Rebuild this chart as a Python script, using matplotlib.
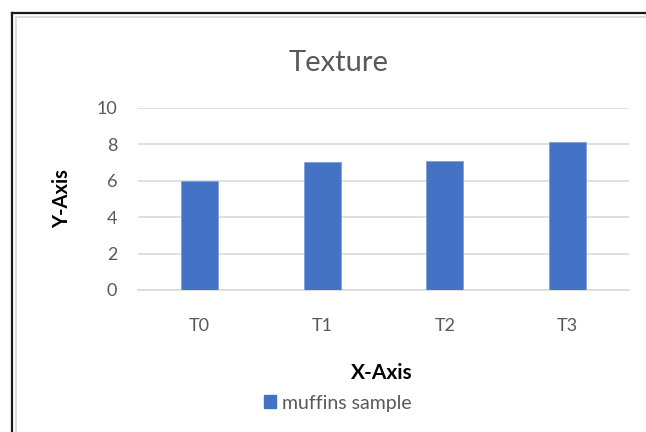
import matplotlib
matplotlib.use("Agg")
import matplotlib.pyplot as plt
from matplotlib.lines import Line2D
from matplotlib.patches import Patch

plt.rcParams['font.family'] = ['Lato', 'DejaVu Sans']

categories = ["T0", "T1", "T2", "T3"]
texture_scores = [6.0, 7.05, 7.1, 8.15]
y_ticks = [0, 2, 4, 6, 8, 10]
series_name = "muffins sample"

BAR_COLOR = "#4472C4"
GRID_COLOR = "#d9d9d9"
TEXT_GRAY = "#595959"

W, H = 646, 432
fig = plt.figure(figsize=(W / 100, H / 100), dpi=100)
fig.patch.set_facecolor("white")

# chart frame: dark outer line with a light inner line (top and left edges)
def fx(px):
    return px / W

def fy(py):
    return 1 - py / H

fig.add_artist(Line2D([fx(12), 1], [fy(13), fy(13)], color="#1a1a1a", lw=1.6, transform=fig.transFigure))
fig.add_artist(Line2D([fx(12), fx(12)], [fy(13), 0], color="#1a1a1a", lw=1.6, transform=fig.transFigure))
fig.add_artist(Line2D([fx(15.5), 1], [fy(16.5), fy(16.5)], color="#dcdcdc", lw=1.4, transform=fig.transFigure))
fig.add_artist(Line2D([fx(15.5), fx(15.5)], [fy(16.5), 0], color="#dcdcdc", lw=1.4, transform=fig.transFigure))

ax = fig.add_axes([138 / W, 1 - 290 / H, (629 - 138) / W, (290 - 108) / H])
x = range(len(categories))
ax.bar(x, texture_scores, width=0.30, color=BAR_COLOR, edgecolor="#7f9fd8", linewidth=0.6, zorder=3)

ax.set_xlim(-0.5, len(categories) - 0.5)
ax.set_ylim(0, 10)
ax.set_yticks(y_ticks)
ax.set_xticks(list(x))
ax.set_xticklabels(categories)
ax.yaxis.grid(True, color=GRID_COLOR, linewidth=1.2, zorder=0)
ax.set_axisbelow(True)
for side in ("top", "right", "left"):
    ax.spines[side].set_visible(False)
ax.spines["bottom"].set_color(GRID_COLOR)
ax.spines["bottom"].set_linewidth(1.2)
ax.tick_params(axis="both", length=0, labelsize=13, labelcolor=TEXT_GRAY)
ax.tick_params(axis="y", pad=15)
ax.tick_params(axis="x", pad=20)

fig.text(fx(339), fy(63), "Texture", ha="center", va="center", fontsize=21, color=TEXT_GRAY)
fig.text(fx(62), fy(199), "Y-Axis", ha="center", va="center", rotation=90,
         fontsize=14.5, fontweight="bold", color="black")
fig.text(fx(382), fy(373), "X-Axis", ha="center", va="center",
         fontsize=15, fontweight="bold", color="black")

fig.legend(handles=[Patch(facecolor=BAR_COLOR, edgecolor=BAR_COLOR, label=series_name)],
           loc="center", bbox_to_anchor=(fx(338), fy(403)), frameon=False,
           fontsize=14, labelcolor=TEXT_GRAY, handlelength=0.6, handleheight=0.6,
           handletextpad=0.35)

fig.savefig("out.png", dpi=100, facecolor="white")
